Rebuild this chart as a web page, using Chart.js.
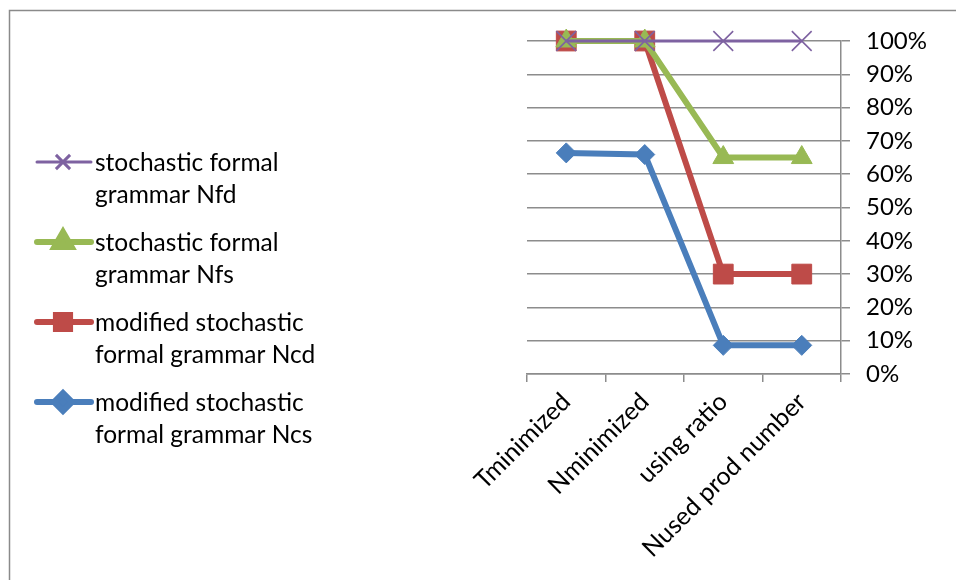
<!DOCTYPE html>
<html>
<head>
<meta charset="utf-8">
<script src="https://cdn.jsdelivr.net/npm/chart.js@4"></script>
<style>
  html, body { margin: 0; padding: 0; background: #fff; }
  #wrap { width: 956px; height: 580px; position: relative; }
</style>
</head>
<body>
<div id="wrap"><canvas id="c" width="956" height="580"></canvas></div>
<script>
// Categories and series (percent)
const categories = ['Tminimized', 'Nminimized', 'using ratio', 'Nused prod number'];
const nfdValues = [100, 100, 100, 100];
const nfsValues = [100, 100, 65, 65];
const ncdValues = [100, 100, 30, 30];
const ncsValues = [66.4, 65.9, 8.6, 8.6];
const seriesNames = [
  'stochastic formal grammar Nfd',
  'stochastic formal grammar Nfs',
  'modified stochastic formal grammar Ncd',
  'modified stochastic formal grammar Ncs'
];

const FONT = 'Lato';
const GRID = '#8c8c8c';

// Outer frame of the chart object
const framePlugin = {
  id: 'frame',
  beforeDraw(chart) {
    const ctx = chart.ctx;
    ctx.save();
    ctx.strokeStyle = '#8a8a8a';
    ctx.lineWidth = 1.5;
    ctx.strokeRect(9.5, 10.5, 1200, 1200);
    ctx.restore();
  }
};

// Legend on the left with wrapped series names
const sideLegend = {
  id: 'sideLegend',
  afterDraw(chart) {
    const ctx = chart.ctx;
    const x0 = 37, x1 = 91, mx = 63, tx = 95;
    const firstY = 162, step = 80, lineH = 32, wrapW = 255;
    ctx.save();
    ctx.font = '24.5px ' + FONT;
    ctx.textBaseline = 'middle';
    ctx.textAlign = 'left';
    chart.data.datasets.forEach((ds, i) => {
      const y = firstY + i * step;
      ctx.strokeStyle = ds.borderColor;
      ctx.lineWidth = ds.legendLineWidth;
      ctx.lineCap = 'round';
      ctx.beginPath();
      ctx.moveTo(x0, y);
      ctx.lineTo(x1, y);
      ctx.stroke();
      ctx.lineCap = 'butt';
      ctx.fillStyle = ds.pointBackgroundColor;
      ctx.strokeStyle = ds.pointBorderColor;
      Chart.helpers.drawPoint(ctx, {
        pointStyle: ds.pointStyle,
        radius: ds.legendRadius,
        borderWidth: ds.pointBorderWidth,
        rotation: 0
      }, mx, y);
      // wrap label
      const words = ds.label.split(' ');
      const lines = [];
      let cur = '';
      words.forEach(w => {
        const t = cur ? cur + ' ' + w : w;
        if (ctx.measureText(t).width > wrapW && cur) { lines.push(cur); cur = w; }
        else cur = t;
      });
      if (cur) lines.push(cur);
      ctx.fillStyle = '#000';
      lines.forEach((ln, k) => ctx.fillText(ln, tx, y + 1 + k * lineH));
    });
    ctx.restore();
  }
};

function series(label, data, color, style, radius, legendRadius, lineWidth, ptBorder) {
  return {
    label, data,
    borderColor: color,
    backgroundColor: color,
    borderWidth: lineWidth,
    legendLineWidth: lineWidth,
    pointStyle: style,
    pointRadius: radius,
    pointHoverRadius: radius,
    legendRadius,
    pointBackgroundColor: color,
    pointBorderColor: color,
    pointBorderWidth: ptBorder,
    tension: 0,
    clip: false
  };
}

new Chart(document.getElementById('c'), {
  type: 'line',
  data: {
    labels: categories,
    datasets: [
      series(seriesNames[0], nfdValues, '#7e62a1', 'crossRot', 14, 10, 3, 1.6),
      series(seriesNames[1], nfsValues, '#98b954', 'triangle', 12, 10, 6, 1),
      series(seriesNames[2], ncdValues, '#be4b48', 'rect', 14, 10, 6, 1),
      series(seriesNames[3], ncsValues, '#4a7ebb', 'rectRot', 10, 9, 6, 1)
    ]
  },
  options: {
    responsive: false,
    animation: false,
    devicePixelRatio: 1,
    layout: { padding: { left: 527, top: 41, right: 0, bottom: 0 } },
    plugins: { legend: { display: false }, tooltip: { enabled: false } },
    scales: {
      x: {
        offset: true,
        grid: { offset: true, drawOnChartArea: false, drawTicks: true, tickLength: 8, color: GRID, lineWidth: 1.5 },
        border: { color: GRID, width: 1.5 },
        ticks: {
          autoSkip: false, minRotation: 45, maxRotation: 45, padding: 5,
          color: '#000', font: { family: FONT, size: 25 }
        },
        afterFit(s) { s.height = 206; }
      },
      y: {
        position: 'right',
        min: 0, max: 100,
        grid: { color: GRID, lineWidth: 1.5, drawTicks: true, tickLength: 9 },
        border: { color: GRID, width: 1.5 },
        ticks: {
          stepSize: 10, padding: 16, color: '#000',
          font: { family: FONT, size: 24 },
          callback: v => v + '%'
        },
        afterFit(s) { s.width = 115; }
      }
    }
  },
  plugins: [framePlugin, sideLegend]
});
</script>
</body>
</html>
